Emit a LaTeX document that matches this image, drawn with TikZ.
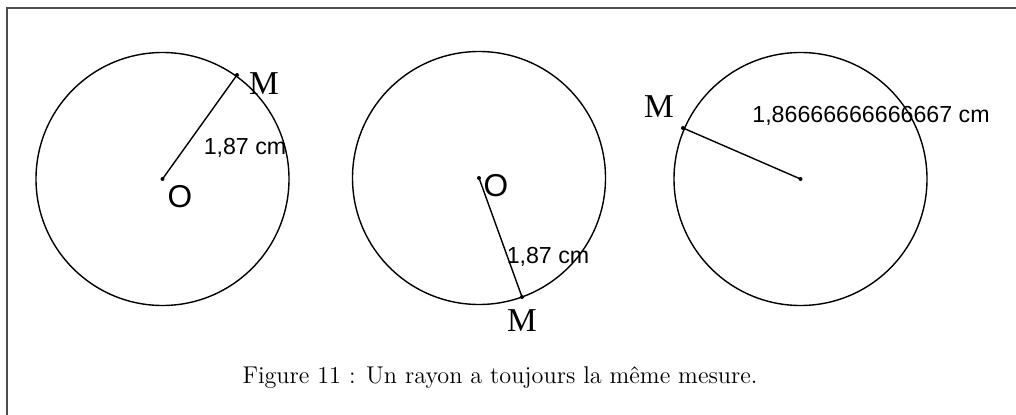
\documentclass[tikz,border=0pt]{standalone}
\usepackage{fontspec}
\newfontfamily\measurefont{Liberation Sans}
\newfontfamily\pointfont{Liberation Serif}

\begin{document}
\begin{tikzpicture}[x=0.02cm, y=-0.02cm, line width=0.8pt,
    every node/.style={inner sep=0pt},
    pointname/.style={font=\pointfont\fontsize{19}{21}\selectfont},
    centername/.style={font=\measurefont\fontsize{18}{20}\selectfont},
    measure/.style={font=\measurefont\fontsize{13.2}{15}\selectfont},
    dot/.style={radius=2}]
    \useasboundingbox (0,0) rectangle (1016,415);

    % Frame
    \draw [black!70, line width=1.2pt] (7,415) -- (7,8) -- (1016,8);

    % Centres and points
    \coordinate (O1) at (162.5,179);
    \coordinate (M1) at (237,75);
    \coordinate (O2) at (479,178);
    \coordinate (M2) at (522,297);
    \coordinate (O3) at (800.5,179);
    \coordinate (M3) at (683,128);

    % Circles
    \draw (O1) circle [radius=126.5];
    \draw (O2) circle [radius=126.5];
    \draw (O3) circle [radius=126.5];

    % Radii
    \draw (O1) -- (M1);
    \draw (O2) -- (M2);
    \draw (O3) -- (M3);
    \foreach \p in {O1,M1,O2,M2,O3,M3}
        \fill (\p) circle [dot];

    % Labels
    \node (nameM1) [pointname] at (264,84) {M};
    \node (nameO1) [centername] at (180,197) {O};
    \node (radius1) [measure] at (245,148) {1,87 cm};
    \node (nameO2) [centername] at (496,186) {O};
    \node (radius2) [measure] at (548,257) {1,87 cm};
    \node (nameM2) [pointname] at (522,321) {M};
    \node (nameM3) [pointname] at (659,107) {M};
    \node (radius3) [measure] at (871,116) {1,86666666666667 cm};

    % Caption
    \node (caption) [font=\fontsize{13.8}{16}\selectfont] at (500,378) {Figure 11 : Un rayon a toujours la même mesure.};
\end{tikzpicture}
\end{document}
